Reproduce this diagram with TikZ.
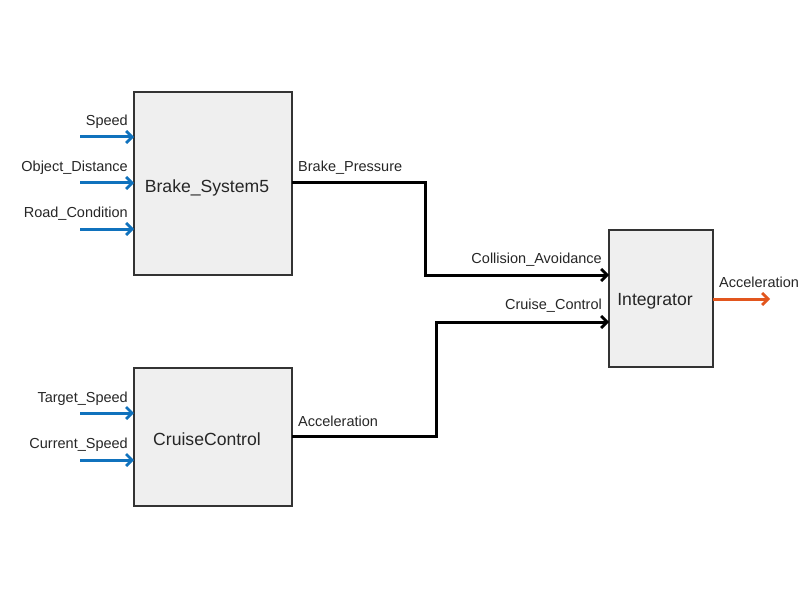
\documentclass[tikz,border=0pt]{standalone}
\usepackage{fontspec}
\setmainfont{Liberation Sans}
\usepackage{tikz}
\usetikzlibrary{arrows.meta}
\definecolor{blkfill}{RGB}{239,239,239}
\definecolor{inblue}{RGB}{16,114,189}
\definecolor{outorange}{RGB}{226,86,30}

\begin{document}
\begin{tikzpicture}[x=1pt, y=-1pt]

\tikzstyle{blk} = [rectangle, draw=black!80, line width=1.4pt, fill=blkfill, inner sep=0pt]
\tikzstyle{blktxt} = [inner sep=0pt, font=\fontsize{17.6}{20}\selectfont, text=black!85]
\tikzstyle{port} = [inner sep=0pt, font=\fontsize{14.5}{17}\selectfont, text=black!85]
\tikzstyle{sig} = [line width=3pt, -{Straight Barb[length=6pt, width=12pt, line width=2.8pt]}]

\useasboundingbox (0,0) rectangle (809,591);

% blocks
\node[blk, minimum width=158pt, minimum height=183pt] (brake) at (213,183.5) {};
\node[blktxt] (brakeT) at (207,187.5) {Brake\_System5};
\node[blk, minimum width=158pt, minimum height=138pt] (cruise) at (213,437) {};
\node[blktxt] (cruiseT) at (207,439.5) {CruiseControl};
\node[blk, minimum width=104pt, minimum height=137pt] (integ) at (661,298.5) {};
\node[blktxt] (integT) at (655,301.5) {Integrator};

% input ports
\coordinate (speed0) at (80,137);   \coordinate (speed) at (134,137);
\coordinate (dist0) at (80,183);    \coordinate (dist) at (134,183);
\coordinate (road0) at (80,229);    \coordinate (road) at (134,229);
\coordinate (tgt0) at (80,413);     \coordinate (tgt) at (134,413);
\coordinate (cur0) at (80,460);     \coordinate (cur) at (134,460);

\node[port, anchor=east] (speedL) at (128,121.5) {Speed};
\node[port, anchor=east] (distL) at (128,167.5) {Object\_Distance};
\node[port, anchor=east] (roadL) at (128,213.5) {Road\_Condition};
\node[port, anchor=east] (tgtL) at (128,398.5) {Target\_Speed};
\node[port, anchor=east] (curL) at (128,444.5) {Current\_Speed};

\draw[sig, inblue] (speed0) -- (speed);
\draw[sig, inblue] (dist0) -- (dist);
\draw[sig, inblue] (road0) -- (road);
\draw[sig, inblue] (tgt0) -- (tgt);
\draw[sig, inblue] (cur0) -- (cur);

% connections
\coordinate (bp) at (292,183);
\coordinate (ca) at (609,275);
\coordinate (acc) at (292,436);
\coordinate (cc) at (609,322);

\node[port, anchor=west] (bpL) at (298,167.5) {Brake\_Pressure};
\node[port, anchor=east] (caL) at (602,259.5) {Collision\_Avoidance};
\node[port, anchor=west] (accL) at (298,421.5) {Acceleration};
\node[port, anchor=east] (ccL) at (602,305.5) {Cruise\_Control};

\draw[sig, black, line join=miter] (bp) -- (425,183) |- (ca);
\draw[sig, black, line join=miter] (acc) -- (436,436) |- (cc);

% output
\coordinate (out) at (713,299);
\coordinate (out1) at (770,299);
\node[port, anchor=west] (outL) at (719,282.5) {Acceleration};
\draw[sig, outorange] (out) -- (out1);

\end{tikzpicture}
\end{document}
